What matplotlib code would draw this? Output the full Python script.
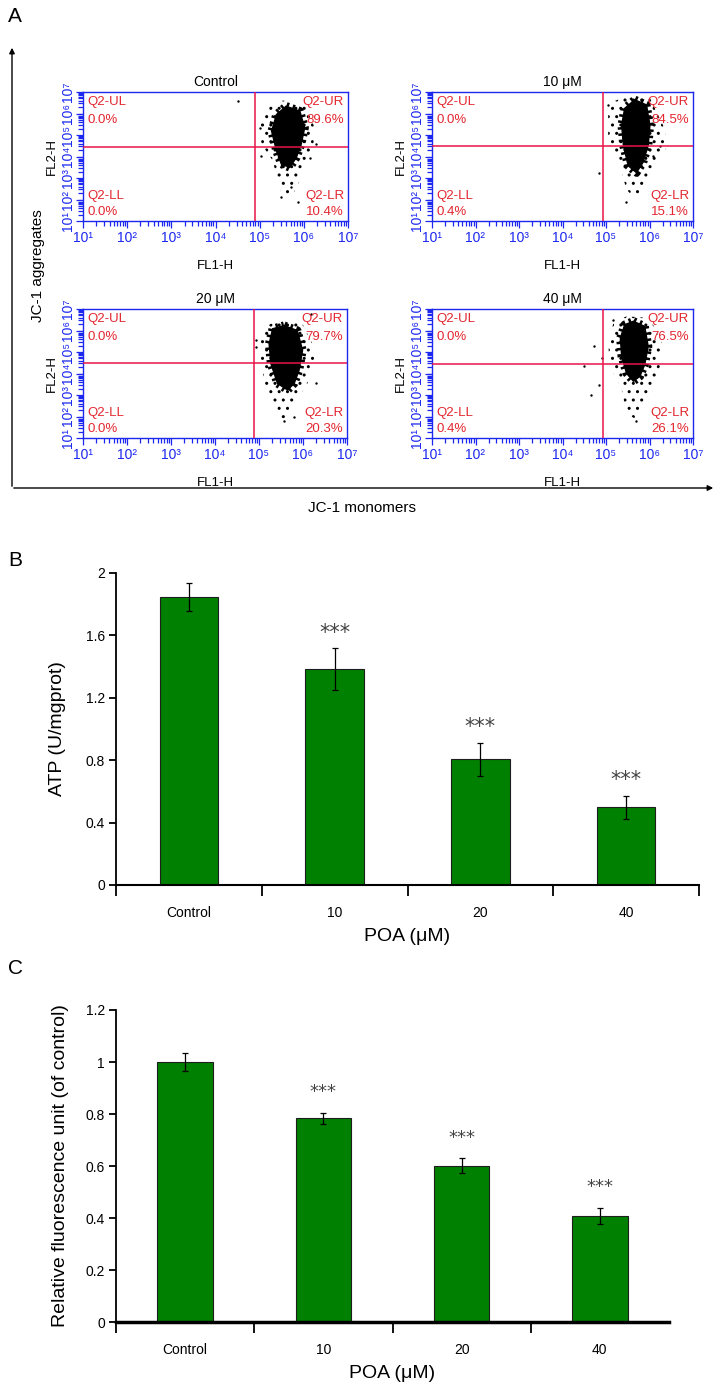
import numpy as np
import matplotlib
matplotlib.use("Agg")
import matplotlib.pyplot as plt
from matplotlib.ticker import FixedLocator, NullFormatter, LogLocator

plt.rcParams['font.family'] = ['Liberation Sans', 'DejaVu Sans']

# ---------------- dati pannello A (citometria JC-1) ----------------
titoli = ["Control", "10 \u03bcM", "20 \u03bcM", "40 \u03bcM"]
q_ul = ["0.0%", "0.0%", "0.0%", "0.0%"]
q_ur = ["89.6%", "84.5%", "79.7%", "76.5%"]
q_ll = ["0.0%", "0.4%", "0.0%", "0.4%"]
q_lr = ["10.4%", "15.1%", "20.3%", "26.1%"]
gate_x = [4.89, 4.92, 4.89, 4.92]   # log10 FL1-H
gate_y = [4.46, 4.51, 4.47, 4.44]   # log10 FL2-H

# contorno del nucleo denso (log10 x, log10 y)
nucleo = [
    [(5.60, 6.34), (5.91, 6.11), (6.02, 5.34), (5.94, 4.57), (5.83, 3.95), (5.68, 3.49),
     (5.49, 3.65), (5.38, 4.26), (5.27, 5.18), (5.38, 5.95)],
    [(5.66, 6.64), (5.93, 6.40), (6.01, 5.46), (5.97, 4.51), (5.85, 3.72), (5.70, 3.25),
     (5.51, 3.57), (5.40, 4.51), (5.36, 5.46), (5.43, 6.24)],
    [(5.57, 6.23), (5.87, 6.00), (5.99, 5.08), (5.91, 4.15), (5.80, 3.54), (5.65, 3.23),
     (5.42, 3.54), (5.27, 4.46), (5.23, 5.38), (5.31, 6.08)],
    [(5.63, 6.43), (5.89, 6.19), (5.97, 5.26), (5.89, 4.41), (5.78, 3.87), (5.63, 3.64),
     (5.47, 4.02), (5.36, 4.80), (5.33, 5.65), (5.43, 6.27)],
]
# contorno dell'alone sparso
alone = [
    [(5.53, 6.60), (6.06, 6.42), (6.24, 5.34), (6.21, 4.26), (6.02, 3.65), (5.91, 2.88),
     (5.76, 2.26), (5.53, 2.11), (5.42, 2.72), (5.30, 3.80), (5.04, 4.57), (5.00, 5.65),
     (5.15, 6.42)],
    [(5.47, 6.80), (6.01, 6.72), (6.31, 5.46), (6.43, 4.51), (6.08, 3.57), (5.93, 2.62),
     (5.70, 1.99), (5.47, 2.46), (5.32, 3.57), (5.05, 4.51), (5.05, 5.93), (5.17, 6.56)],
    [(5.50, 6.54), (5.95, 6.46), (6.25, 5.23), (6.29, 4.62), (6.10, 3.54), (5.87, 2.77),
     (5.65, 2.00), (5.50, 1.85), (5.34, 2.62), (5.15, 3.38), (5.04, 4.62), (5.04, 5.54),
     (5.19, 6.23)],
    [(5.47, 6.66), (6.01, 6.58), (6.28, 5.42), (6.24, 4.33), (6.08, 3.25), (5.85, 2.32),
     (5.70, 1.85), (5.47, 2.16), (5.36, 3.25), (5.09, 4.33), (5.05, 5.42), (5.17, 6.35)],
]
# eventi isolati
isolati = [
    [(4.52, 6.57), (5.04, 4.03), (5.49, 2.11), (5.87, 1.88), (5.72, 2.57), (6.13, 3.95),
     (6.28, 4.57), (5.00, 5.34)],
    [(4.84, 3.25), (5.47, 1.87), (5.05, 6.40), (6.24, 4.51), (6.08, 4.04)],
    [(4.93, 5.54), (4.93, 5.23), (5.57, 1.77), (5.80, 2.00), (6.29, 3.54), (6.18, 6.77)],
    [(4.73, 5.26), (4.90, 4.72), (4.49, 4.33), (4.85, 3.48), (4.65, 3.02), (5.70, 1.78),
     (5.17, 6.50)],
]

# ---------------- dati pannelli B e C ----------------
gruppi = ["Control", "10", "20", "40"]
atp = [1.845, 1.385, 0.806, 0.497]
atp_err = [0.090, 0.133, 0.105, 0.074]
rfu = [1.000, 0.783, 0.601, 0.408]
rfu_err = [0.035, 0.022, 0.028, 0.032]
signif = ["", "***", "***", "***"]

BLU = "#1c28f0"
ROSSO_LINEA = "#e8144a"
ROSSO_TESTO = "#e3262f"
VERDE = "#008000"

W, H = 724, 1397
fig = plt.figure(figsize=(W / 100, H / 100), dpi=100)


def rect(x0, y0, x1, y1):
    return [x0 / W, 1 - y1 / H, (x1 - x0) / W, (y1 - y0) / H]


def fpos(x, y):
    return x / W, 1 - y / H


sup = str.maketrans("1234567", "\u00b9\u00b2\u00b3\u2074\u2075\u2076\u2077")
etichette_log = ["10" + str(k).translate(sup) for k in range(1, 8)]

riquadri = [(83, 92, 348, 221), (432, 92, 693, 221), (83, 309, 347, 438), (432, 309, 693, 438)]

for i, (x0, y0, x1, y1) in enumerate(riquadri):
    ax = fig.add_axes(rect(x0, y0, x1, y1))
    ax.set_xscale("log")
    ax.set_yscale("log")
    ax.set_xlim(10, 1e7)
    ax.set_ylim(10, 1e7)
    for s in ax.spines.values():
        s.set_color(BLU)
        s.set_linewidth(1.0)

    # alone puntinato + nucleo nero con bordo sfrangiato
    pa = np.array(alone[i])
    ax.fill(10 ** pa[:, 0], 10 ** pa[:, 1], facecolor="none", edgecolor="black",
            linewidth=0, hatch="..", zorder=2)
    pn = np.array(nucleo[i])
    ax.fill(10 ** pn[:, 0], 10 ** pn[:, 1], color="black", zorder=3)
    chiuso = np.vstack([pn, pn[:1]])
    ax.plot(10 ** chiuso[:, 0], 10 ** chiuso[:, 1], color="black", lw=6,
            linestyle=(0, (0.3, 0.45)), zorder=3)
    pi = np.array(isolati[i])
    ax.scatter(10 ** pi[:, 0], 10 ** pi[:, 1], s=3, color="black", zorder=3, linewidths=0)

    ax.axvline(10 ** gate_x[i], color=ROSSO_LINEA, lw=1.1, zorder=4)
    ax.axhline(10 ** gate_y[i], color=ROSSO_LINEA, lw=1.1, zorder=4)

    kw = dict(transform=ax.transAxes, color=ROSSO_TESTO, fontsize=9.5, zorder=5)
    ax.text(0.016, 0.92, "Q2-UL", ha="left", va="center", **kw)
    ax.text(0.016, 0.78, q_ul[i], ha="left", va="center", **kw)
    ax.text(0.016, 0.19, "Q2-LL", ha="left", va="center", **kw)
    ax.text(0.016, 0.07, q_ll[i], ha="left", va="center", **kw)
    ax.text(0.985, 0.92, "Q2-UR", ha="right", va="center", **kw)
    ax.text(0.985, 0.78, q_ur[i], ha="right", va="center", **kw)
    ax.text(0.985, 0.19, "Q2-LR", ha="right", va="center", **kw)
    ax.text(0.985, 0.07, q_lr[i], ha="right", va="center", **kw)

    dec = [10.0 ** k for k in range(1, 8)]
    for asse in (ax.xaxis, ax.yaxis):
        asse.set_major_locator(FixedLocator(dec))
        asse.set_minor_locator(LogLocator(base=10, subs=np.arange(2, 10), numticks=20))
        asse.set_minor_formatter(NullFormatter())
    ax.set_xticklabels(etichette_log)
    ax.set_yticklabels(etichette_log, rotation=90, va="center")
    ax.tick_params(which="both", direction="out", colors=BLU, labelcolor=BLU,
                   labelsize=10, width=0.9)
    ax.tick_params(which="major", length=5, pad=2)
    ax.tick_params(which="minor", length=3.5)
    ax.tick_params(axis="y", which="major", pad=1)

    ax.set_title(titoli[i], fontsize=10, pad=4)
    ax.set_xlabel("FL1-H", fontsize=9.5, labelpad=11)
    ax.set_ylabel("FL2-H", fontsize=9.5, labelpad=2)

# assi generali con frecce
ov = fig.add_axes([0, 0, 1, 1])
ov.set_xlim(0, W)
ov.set_ylim(H, 0)
ov.axis("off")
ov.annotate("", xy=(12, 45), xytext=(12, 489),
            arrowprops=dict(arrowstyle="-|>", color="black", lw=1.0, mutation_scale=8))
ov.annotate("", xy=(716, 488), xytext=(11, 488),
            arrowprops=dict(arrowstyle="-|>", color="black", lw=1.0, mutation_scale=8))
fig.text(*fpos(38, 266), "JC-1 aggregates", rotation=90, ha="center", va="center", fontsize=11)
fig.text(*fpos(362, 508), "JC-1 monomers", ha="center", va="center", fontsize=11)

fig.text(*fpos(8, 17), "A", fontsize=15, ha="left", va="center")
fig.text(*fpos(8, 560), "B", fontsize=15, ha="left", va="center")
fig.text(*fpos(8, 968), "C", fontsize=15, ha="left", va="center")


def barre(ax, valori, errori, ymax, passo, offset, larghezza_asse, ultimo_tick, fs_stelle):
    xs = np.arange(len(gruppi))
    ax.bar(xs, valori, width=0.4, color=VERDE, edgecolor="#1e1e1e", linewidth=0.8, zorder=2)
    ax.errorbar(xs, valori, yerr=errori, fmt="none", ecolor="black", elinewidth=0.9,
                capsize=2.5, capthick=0.9, zorder=3)
    for x, v, e, s in zip(xs, valori, errori, signif):
        if s:
            ax.text(x, v + e + offset, s, ha="center", va="center", fontsize=fs_stelle,
                    color="#444444", family="DejaVu Sans")
    ax.set_xlim(-0.5, len(gruppi) - 0.5)
    ax.set_ylim(0, ymax)
    ax.set_yticks(np.arange(0, ymax + passo / 2, passo))
    ax.set_yticklabels([f"{t:g}" for t in np.arange(0, ymax + passo / 2, passo)])
    confini = np.arange(-0.5, len(gruppi) + 0.5) if ultimo_tick else np.arange(-0.5, len(gruppi) - 0.5)
    ax.set_xticks(confini)
    ax.set_xticklabels([])
    ax.set_xticks(xs, minor=True)
    ax.set_xticklabels(gruppi, minor=True)
    ax.tick_params(axis="x", which="major", length=8, width=1.3, direction="out")
    ax.tick_params(axis="x", which="minor", length=0, pad=15, labelsize=10)
    ax.tick_params(axis="y", length=5, width=1.3, labelsize=10, pad=3)
    for lato in ("top", "right"):
        ax.spines[lato].set_visible(False)
    ax.spines["left"].set_linewidth(1.3)
    ax.spines["bottom"].set_linewidth(larghezza_asse)
    ax.set_xlabel("POA (\u03bcM)", fontsize=14, labelpad=6)


axB = fig.add_axes(rect(116, 573, 699, 885))
barre(axB, atp, atp_err, 2.0, 0.4, 0.1, 1.5, True, 15)
axB.set_ylabel("ATP (U/mgprot)", fontsize=14, labelpad=14)

axC = fig.add_axes(rect(116, 1010, 669, 1322))
barre(axC, rfu, rfu_err, 1.2, 0.2, 0.08, 2.5, False, 13)
axC.set_ylabel("Relative fluorescence unit (of control)", fontsize=14, labelpad=12)

fig.savefig("out.png", dpi=100)
